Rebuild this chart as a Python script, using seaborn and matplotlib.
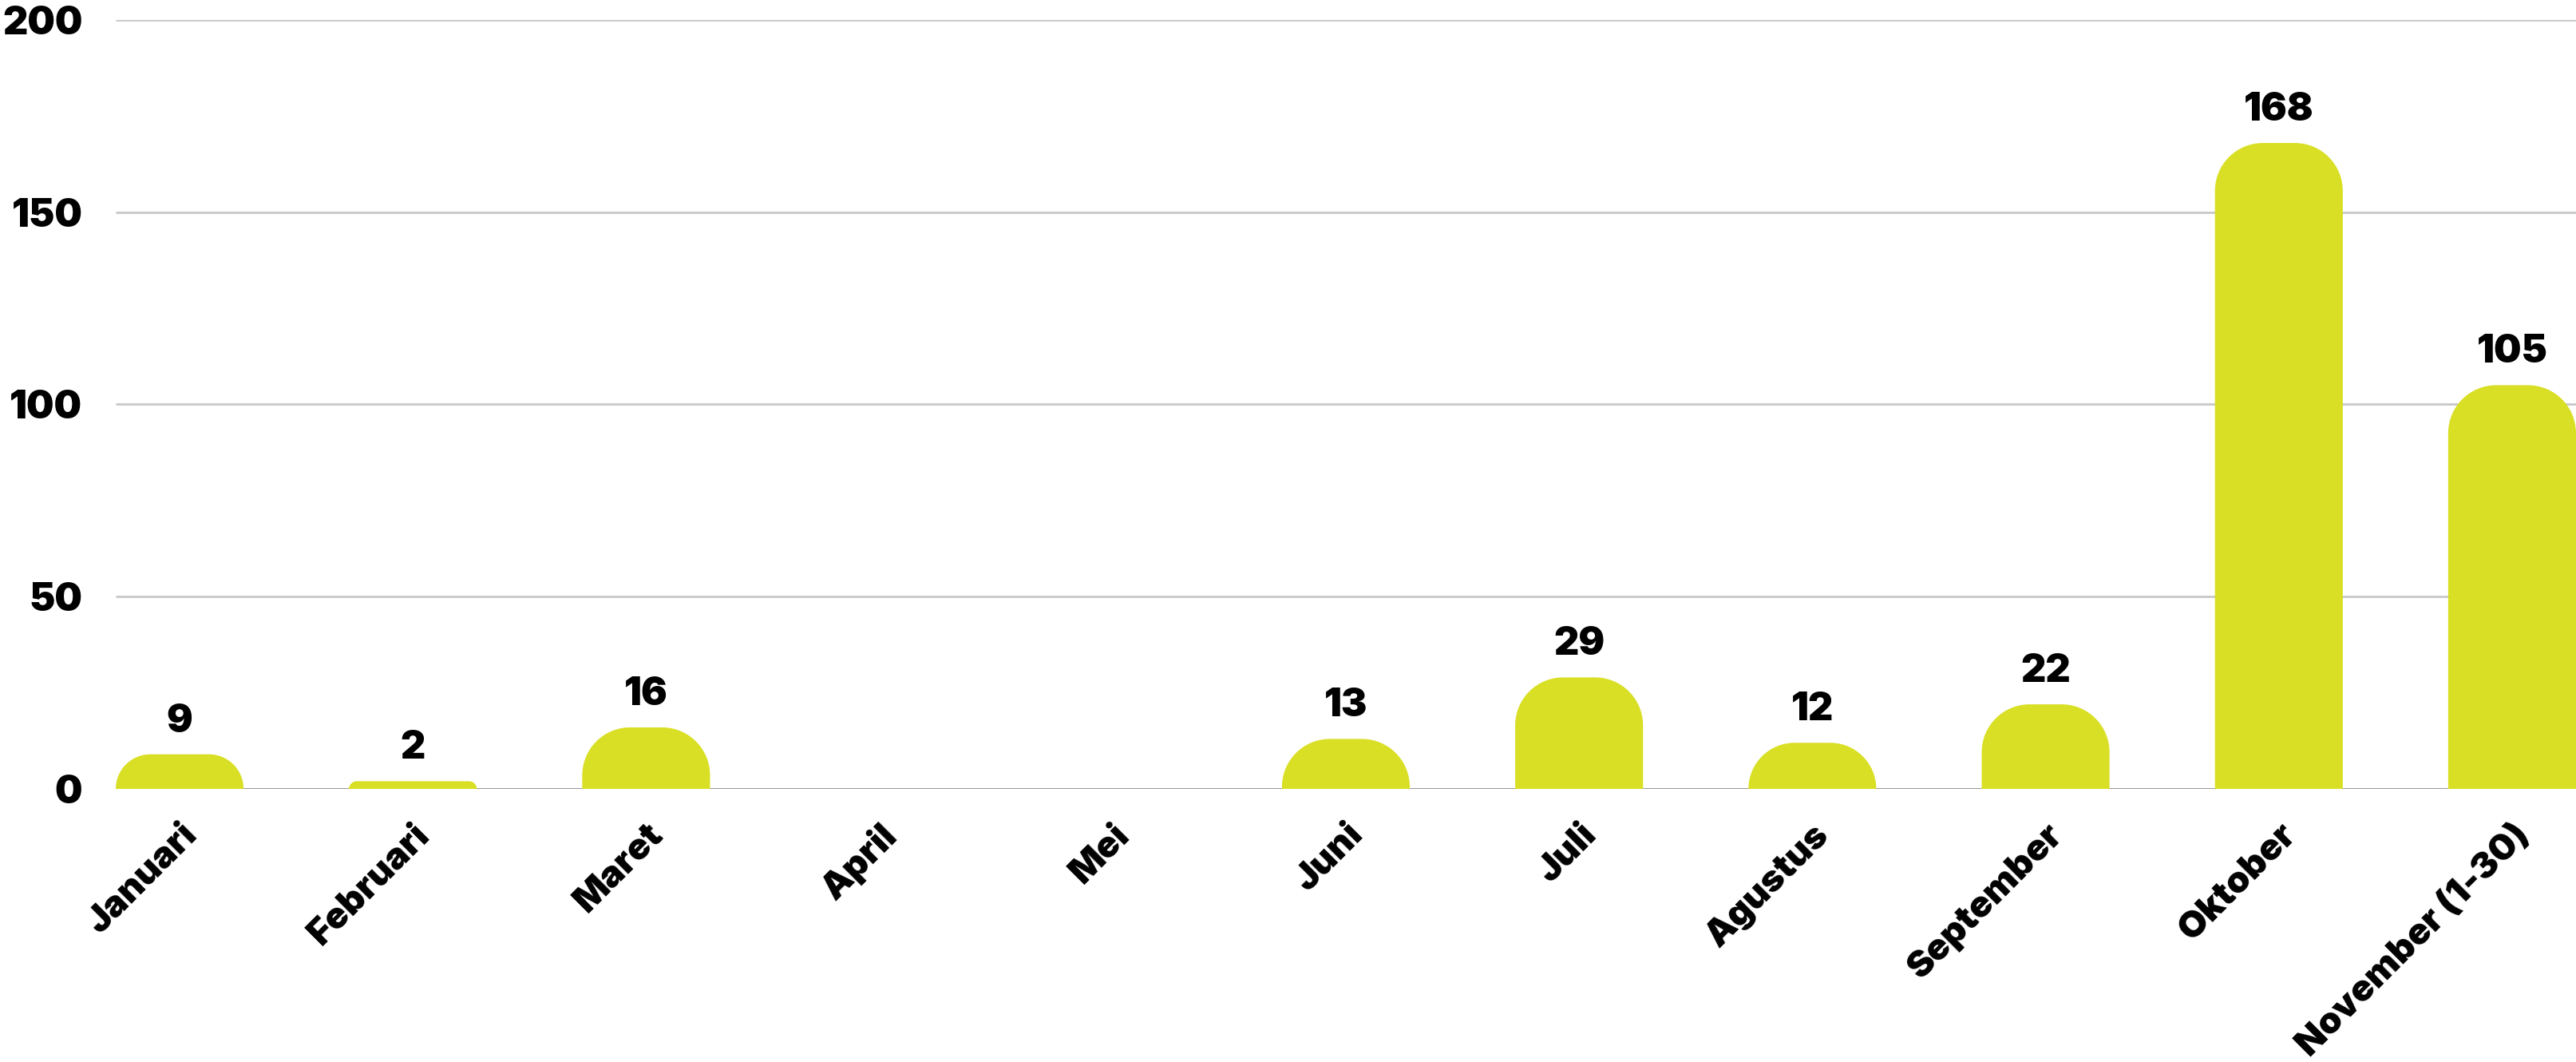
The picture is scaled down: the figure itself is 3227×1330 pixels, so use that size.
import matplotlib
matplotlib.use("Agg")
import matplotlib.pyplot as plt
import seaborn as sns
import pandas as pd
import numpy as np
from matplotlib.path import Path
from matplotlib.patches import PathPatch

months = ["Januari", "Februari", "Maret", "April", "Mei", "Juni", "Juli",
          "Agustus", "September", "Oktober", "November (1-30)"]
counts = [9, 2, 16, 0, 0, 13, 29, 12, 22, 168, 105]
yticks = [0, 50, 100, 150, 200]

BAR_COLOR = "#d9df24"
FONT = ["Inter", "Lato", "DejaVu Sans"]

sns.set_theme(style="white")
plt.rcParams["font.family"] = FONT
plt.rcParams["savefig.bbox"] = None

W, H, DPI = 3227, 1330, 100
AX_POS = [145 / W, 1 - 988 / H, 1 - 145 / W, (988 - 25) / H]
fig = plt.figure(figsize=(W / DPI, H / DPI), dpi=DPI)
fig.set_layout_engine(None)
ax = fig.add_axes(AX_POS)

df = pd.DataFrame({"month": months, "count": counts})
bw = 0.548
sns.barplot(data=df, x="month", y="count", color=BAR_COLOR, width=bw,
            saturation=1, ax=ax, zorder=3)

XLIM = (-bw / 2, len(months) - 1 + bw / 2)
ax.set_xlim(*XLIM)
ax.set_ylim(0, 200)
ax.set_yticks(yticks)
ax.set_yticklabels([str(v) for v in yticks])
ax.set_xlabel("")
ax.set_ylabel("")

for s in ax.spines.values():
    s.set_visible(False)
ax.hlines(yticks[1:], XLIM[0], XLIM[1], color="#c8c8c8", lw=2, zorder=1)
ax.hlines([0], XLIM[0], XLIM[1], color="#9a9a9a", lw=2.2, zorder=2)

ax.set_position(AX_POS)
fig.canvas.draw()
px_x = ax.transData.transform((1, 0))[0] - ax.transData.transform((0, 0))[0]
px_y = ax.transData.transform((0, 1))[1] - ax.transData.transform((0, 0))[1]
k = 0.5523
for p in list(ax.patches):
    x0 = p.get_x()
    w = p.get_width()
    h = p.get_height()
    p.set_visible(False)
    if h <= 0:
        continue
    x1 = x0 + w
    r_px = min(60, h * px_y)
    rx = r_px / px_x
    ry = r_px / px_y
    verts = [(x0, 0), (x0, h - ry),
             (x0, h - ry + k * ry), (x0 + rx - k * rx, h), (x0 + rx, h),
             (x1 - rx, h),
             (x1 - rx + k * rx, h), (x1, h - ry + k * ry), (x1, h - ry),
             (x1, 0), (x0, 0)]
    codes = [Path.MOVETO, Path.LINETO,
             Path.CURVE4, Path.CURVE4, Path.CURVE4,
             Path.LINETO,
             Path.CURVE4, Path.CURVE4, Path.CURVE4,
             Path.LINETO, Path.CLOSEPOLY]
    ax.add_patch(PathPatch(Path(verts, codes), facecolor=BAR_COLOR,
                           edgecolor="none", zorder=3, clip_on=False))

for i, v in enumerate(counts):
    if v > 0:
        ax.annotate(str(v), (i, v), xytext=(0, 13), textcoords="offset points",
                    ha="center", va="bottom", fontsize=35, fontweight="black",
                    color="black", family=FONT)

ax.tick_params(axis="both", length=0)
ax.tick_params(axis="y", pad=30)
ax.tick_params(axis="x", pad=26)
for t in ax.get_yticklabels():
    t.set_fontsize(35)
    t.set_fontweight("black")
    t.set_color("black")
for t in ax.get_xticklabels():
    t.set_fontsize(33)
    t.set_fontweight("black")
    t.set_color("black")
    t.set_rotation(45)
    t.set_ha("right")
    t.set_rotation_mode("anchor")

ax.set_xlim(*XLIM)
ax.set_ylim(0, 200)
ax.set_position(AX_POS)
fig.savefig("out.png", dpi=DPI, facecolor="white")
